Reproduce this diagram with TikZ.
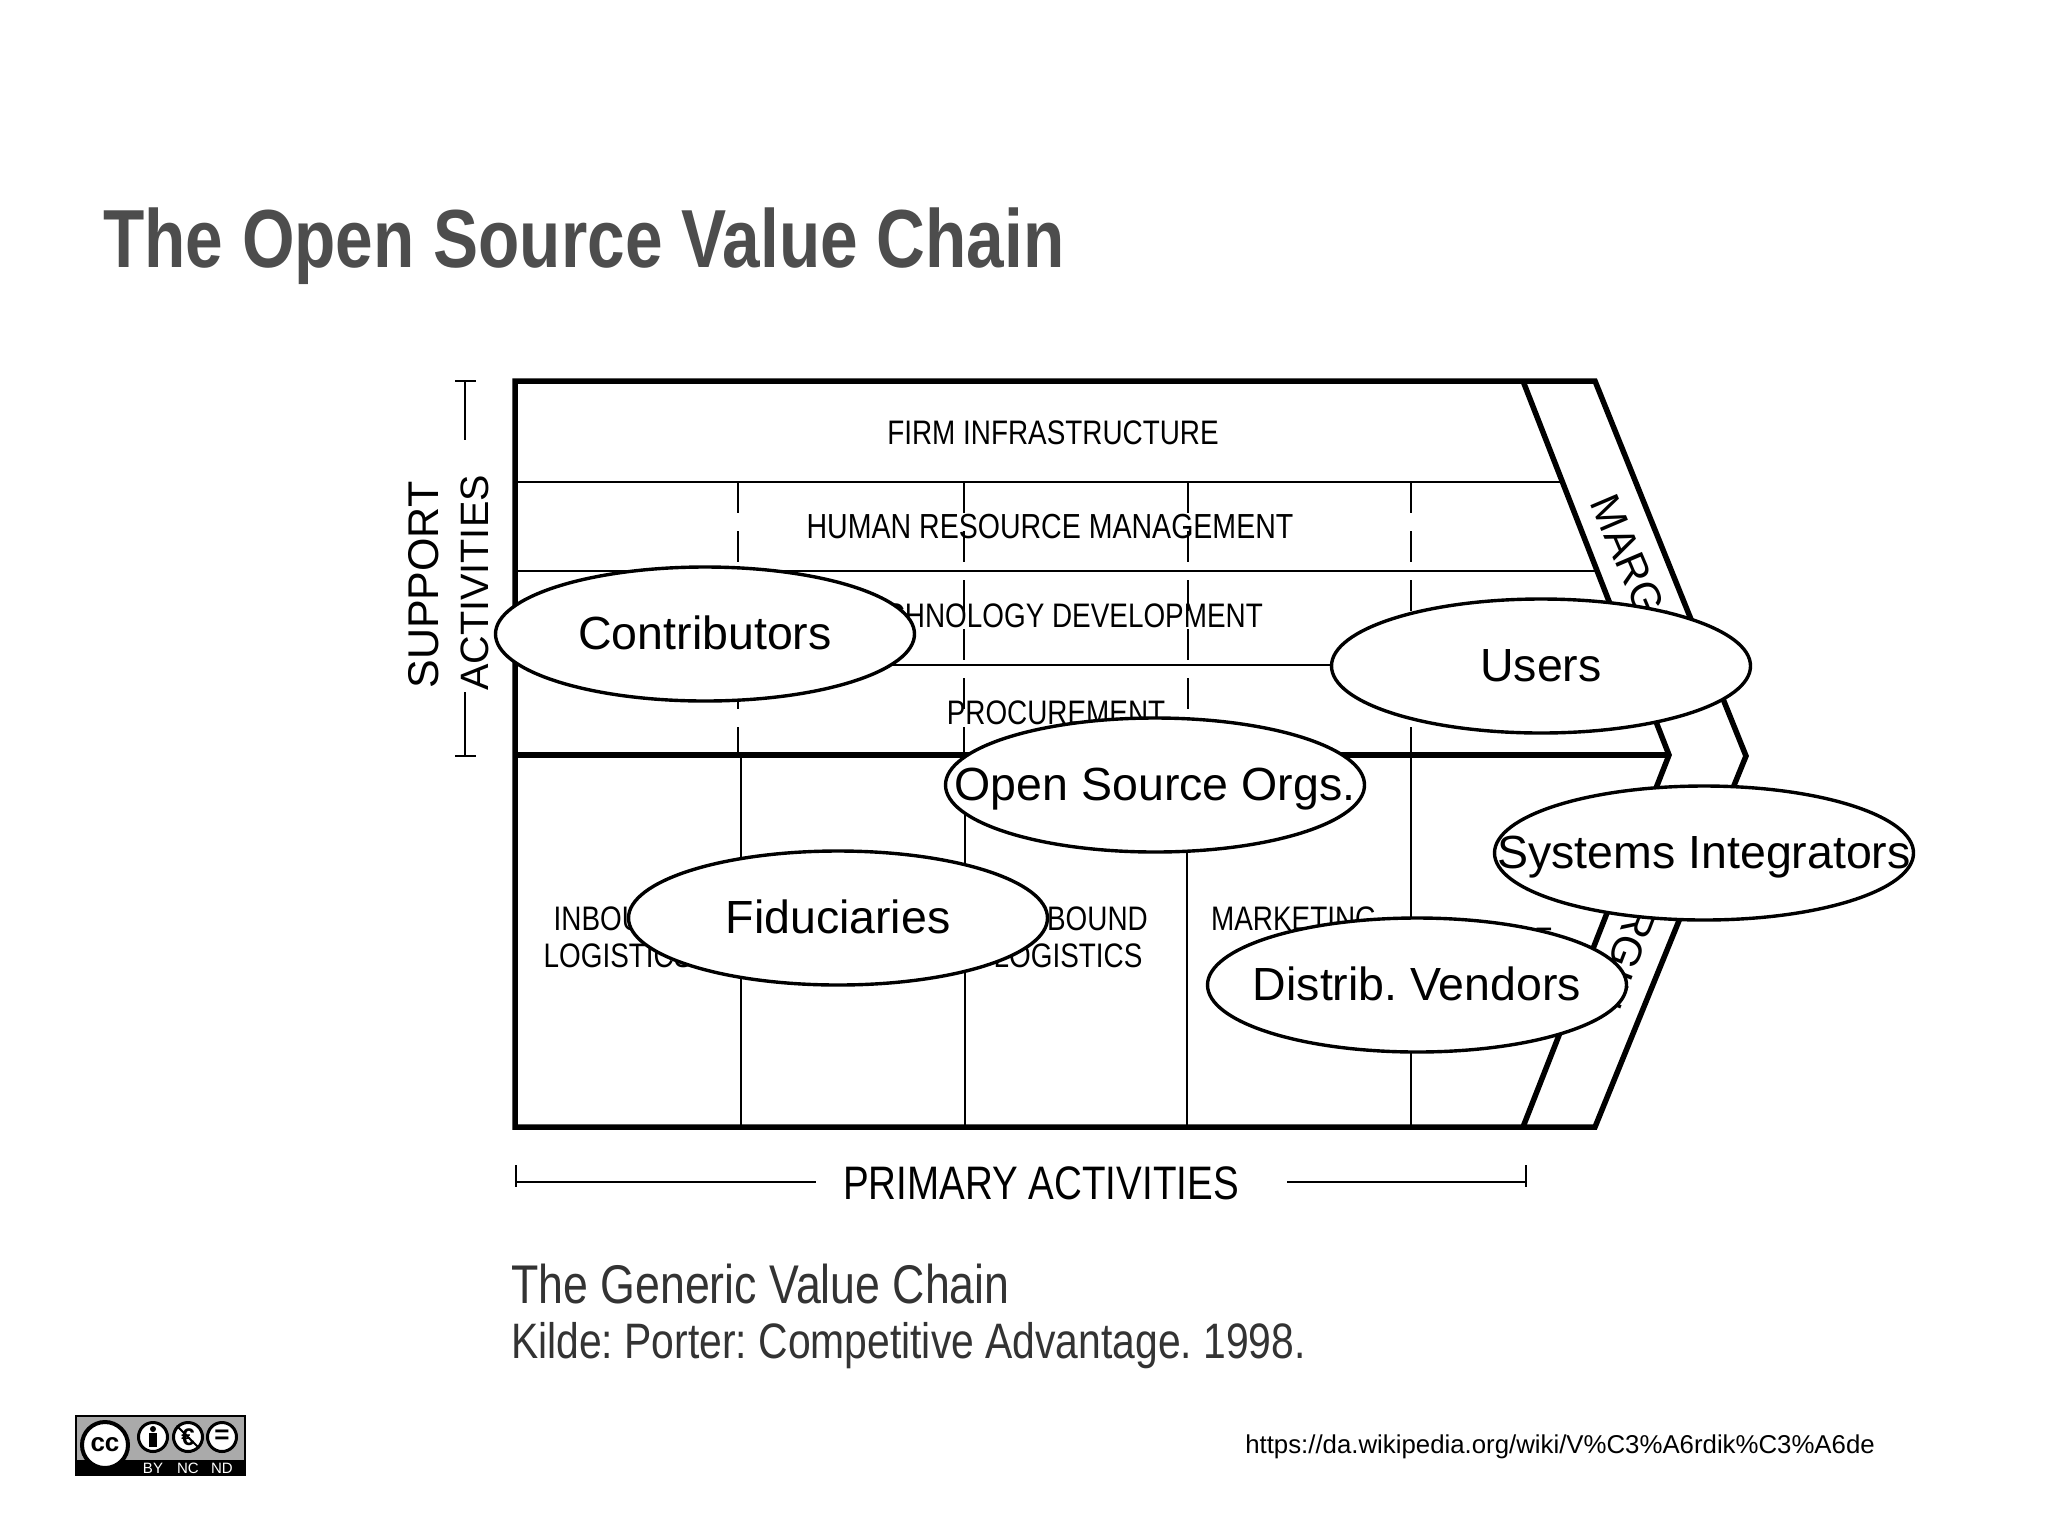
\documentclass[tikz,border=0pt]{standalone}
\usepackage{fontspec}
\usetikzlibrary{positioning,shapes}
\setmainfont{Liberation Sans}
\newfontfamily\narrowfont[FakeStretch=0.82]{Liberation Sans}
\definecolor{titlegray}{RGB}{77,77,77}
\definecolor{badgegray}{RGB}{170,170,170}
\newcommand{\fsz}[1]{\fontsize{#1}{#1}\selectfont}
\newcommand{\actorname}[1]{\makebox[0pt]{#1}}
\frenchspacing

\begin{document}
\begin{tikzpicture}[x=1pt,y=-1pt,
  actor/.style={ellipse,draw,fill=white,line width=3.4pt,minimum width=419pt,minimum height=134pt,inner sep=0pt,text height=31.5pt,text depth=0pt,font=\fsz{46.5}},
  cell/.style={inner sep=0pt,align=center,font=\narrowfont\fsz{34}},
  band/.style={inner sep=0pt,font=\fsz{42}},
  rule/.style={line width=2.8pt},
  heavy/.style={line width=5.5pt},
  slash/.style={rule,dash pattern=on 31pt off 18pt},
  small/.style={circle,draw,fill=white,line width=3pt,minimum size=29pt,inner sep=0pt}
]
\path[fill=white,use as bounding box] (0,0) rectangle (2048,1535);

% the title
\node[anchor=base west,inner sep=0pt,text=titlegray,font=\narrowfont\bfseries\fsz{82.4}] (title) at (103,267) {The Open Source Value Chain};

% the rows of the support part
\draw[rule] (515,482) -- (1563,482);
\draw[rule] (515,571) -- (1598,571);
\draw[rule] (515,665) -- (1634,665);
\foreach \x in {738,964,1188,1411}
  \draw[slash] (\x,482) -- (\x,755);

% the columns of the primary part
\foreach \x in {741,965,1187,1411}
  \draw[rule] (\x,755) -- (\x,1127);

% the frame and the margin band
\draw[heavy] (515,755) -- (1669,755);
\draw[heavy,line join=miter] (515,381) -- (1595,381) -- (1746,756) -- (1595,1127) -- (515,1127) -- cycle;
\draw[heavy] (1523,381) -- (1669,755) -- (1523,1127);

% the labels of the old chart
\node[cell] (firm) at (1053,433) {FIRM INFRASTRUCTURE};
\node[cell,font=\narrowfont\fsz{34.8}] (human) at (1050,527) {HUMAN RESOURCE MANAGEMENT};
\node[cell] (tech) at (1056,616) {TECHNOLOGY DEVELOPMENT};
\node[cell] (proc) at (1056,713) {PROCUREMENT};
\node[cell] (inbound) at (618,937) {INBOUND\\[3pt]LOGISTICS};
\node[cell] (outbound) at (1068,937) {OUTBOUND\\[3pt]LOGISTICS};
\node[cell] (marketing) at (1294,918.5) {MARKETING};
\node[cell] (service) at (1492,940) {SERVICE};
\node[band,anchor=west,rotate=-67] (margup) at (1603,497) {MARGIN};
\node[band,anchor=east,rotate=-111] (margdown) at (1606,1007) {MARGIN};

% the side and bottom brackets
\node[inner sep=0pt,rotate=90,font=\fsz{43}] (support) at (424,585) {SUPPORT};
\node[inner sep=0pt,rotate=90,font=\fsz{39.6}] (activities) at (475,583) {ACTIVITIES};
\coordinate (st) at (465,381);
\coordinate (sb) at (465,756);
\draw[rule] (st) -- (465,440);
\draw[rule] (465,692) -- (sb);
\draw[rule] (455,381) -- (476,381);
\draw[rule] (455,756) -- (476,756);
\node[inner sep=0pt,font=\narrowfont\fsz{47}] (primary) at (1041,1183) {PRIMARY ACTIVITIES};
\coordinate (pl) at (516,1182);
\coordinate (pr) at (1526,1182);
\draw[rule] (pl) -- (816,1182);
\draw[rule] (1287,1182) -- (pr);
\draw[rule] (516,1165) -- (516,1187);
\draw[rule] (1526,1165) -- (1526,1187);

% the caption
\node[anchor=west,inner sep=0pt,text=black!80,font=\narrowfont\fsz{54.5}] (generic) at (511,1284) {The Generic Value Chain};
\node[anchor=west,inner sep=0pt,text=black!80,font=\narrowfont\fsz{49.8}] (source) at (511,1346) {Kilde: Porter: Competitive Advantage. 1998.};

% the ellipses on top
\node[actor] (contrib) at (705,634) {\actorname{Contributors}};
\node[actor] (users) at (1541,666) {\actorname{Users}};
\node[actor] (orgs) at (1155,785) {\actorname{Open Source Orgs.}};
\node[actor] (integr) at (1704,853) {\actorname{Systems Integrators}};
\node[actor] (fidu) at (838,918) {\actorname{Fiduciaries}};
\node[actor] (vendors) at (1417,985) {\actorname{Distrib. Vendors}};

% the link at the bottom
\node[anchor=east,inner sep=0pt,font=\fsz{25.8}] (url) at (1875,1447) {https://da.wikipedia.org/wiki/V\%C3\%A6rdik\%C3\%A6de};

% the licence badge
\fill[badgegray] (76,1416) rectangle (245,1460);
\fill[black] (76,1460) rectangle (245,1475);
\draw[line width=1.5pt] (76,1416) rectangle (245,1475);
\node[circle,draw,fill=white,line width=4pt,minimum size=46pt,inner sep=0pt,font=\bfseries\fsz{26}] (cc) at (105,1445) {cc};
\node[small] (by) at (153,1437) {};
\node[small,font=\bfseries\fsz{24}] (nc) at (188,1437) {€};
\node[small,font=\bfseries\fsz{26}] (nd) at (222,1437) {=};
\fill (153,1429) circle (3pt);
\fill (149,1433) rectangle (157,1447);
\draw[line width=2pt] (nc.north west) -- (nc.south east);
\node[inner sep=0pt,text=white,font=\fsz{15}] (bytext) at (153,1468) {BY};
\node[inner sep=0pt,text=white,font=\fsz{15}] (nctext) at (188,1468) {NC};
\node[inner sep=0pt,text=white,font=\fsz{15}] (ndtext) at (222,1468) {ND};
\end{tikzpicture}
\end{document}
